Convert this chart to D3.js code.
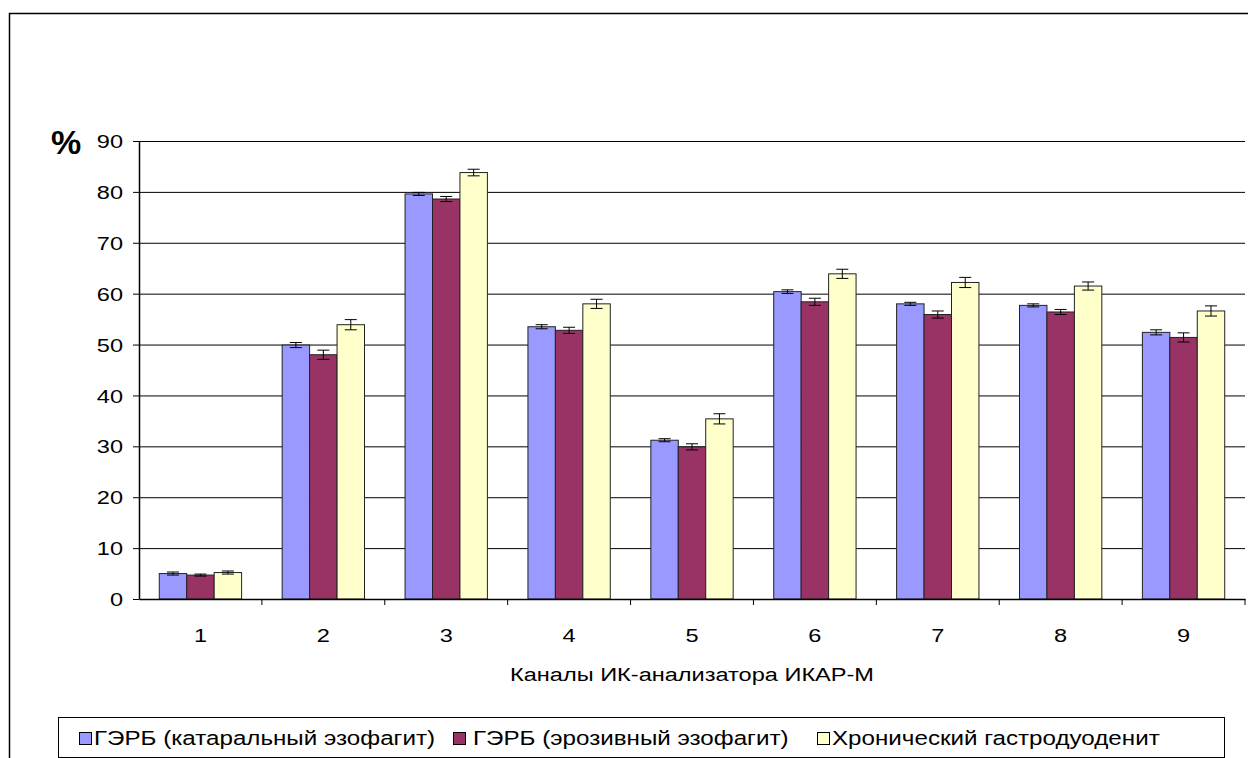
<!DOCTYPE html>
<html>
<head>
<meta charset="utf-8">
<script src="https://cdn.jsdelivr.net/npm/d3@7"></script>
<style>
  body { margin: 0; background: #fff; }
  svg text { font-family: "Liberation Sans", Arial, sans-serif; }
</style>
</head>
<body>
<svg id="chart"></svg>
<script>
const categories = ['1', '2', '3', '4', '5', '6', '7', '8', '9'];
const seriesNames = [
    'ГЭРБ (катаральный эзофагит)',
    'ГЭРБ (эрозивный эзофагит)',
    'Хронический гастродуоденит'
];
const catarrhal = [5.0, 49.9, 79.6, 53.5, 31.2, 60.4, 58.0, 57.7, 52.4];
const erosive = [4.7, 48.0, 78.6, 52.8, 29.9, 58.4, 55.9, 56.4, 51.4];
const chronic = [5.2, 53.9, 83.8, 58.0, 35.4, 63.9, 62.2, 61.5, 56.6];
const catarrhalErr = [0.3, 0.5, 0.3, 0.4, 0.3, 0.35, 0.3, 0.3, 0.5];
const erosiveErr = [0.2, 0.9, 0.5, 0.6, 0.6, 0.7, 0.7, 0.5, 0.9];
const chronicErr = [0.3, 1.0, 0.65, 0.9, 1.0, 0.9, 1.0, 0.8, 1.0];
const yTicks = [0, 10, 20, 30, 40, 50, 60, 70, 80, 90];
const colors = ['#9999FF', '#993366', '#FFFFCC'];

const WIDTH = 1248;
const HEIGHT = 758;
const PLOT = { left: 139, right: 1245, top: 141, bottom: 599 };
const FONT = 19;
const STRETCH = 1.24; // the original text is drawn wider than plain Arial

const values = [catarrhal, erosive, chronic];
const errors = [catarrhalErr, erosiveErr, chronicErr];

const svg = d3.select('#chart')
    .attr('width', WIDTH)
    .attr('height', HEIGHT);

// outer frame
svg.append('path')
    .attr('d', 'M9.5,' + HEIGHT + ' L9.5,13.5 L' + WIDTH + ',13.5')
    .attr('fill', 'none')
    .attr('stroke', '#000')
    .attr('stroke-width', 1.5);

const xScale = d3.scaleBand()
    .domain(categories)
    .range([PLOT.left, PLOT.right])
    .paddingInner(0.33)
    .paddingOuter(0.165);
const xInner = d3.scaleBand()
    .domain([0, 1, 2])
    .range([0, xScale.bandwidth()]);
const xCat = d3.scaleBand()
    .domain(categories)
    .range([PLOT.left, PLOT.right]);
const yScale = d3.scaleLinear()
    .domain([0, 90])
    .range([PLOT.bottom, PLOT.top]);

// stretched text helper
function wideText(parent, x, y, str, anchor, size) {
    return parent.append('text')
        .attr('transform', 'translate(' + x + ',' + y + ') scale(' + STRETCH + ',1)')
        .attr('text-anchor', anchor || 'start')
        .attr('font-size', size || FONT)
        .attr('fill', '#000')
        .text(str);
}

// grid
svg.append('g')
    .attr('transform', 'translate(' + PLOT.left + ',0)')
    .call(d3.axisLeft(yScale).tickValues(yTicks.slice(1)).tickSize(-(PLOT.right - PLOT.left)).tickFormat(''))
    .call(g => g.select('.domain').remove())
    .call(g => g.selectAll('line').attr('stroke', '#000').attr('stroke-width', 1));

// bars
values.forEach((vals, s) => {
    const g = svg.append('g');
    g.selectAll('rect')
        .data(categories)
        .join('rect')
        .attr('x', c => xScale(c) + xInner(s))
        .attr('y', (c, i) => yScale(vals[i]))
        .attr('width', xInner.bandwidth())
        .attr('height', (c, i) => yScale(0) - yScale(vals[i]))
        .attr('fill', colors[s])
        .attr('stroke', '#222')
        .attr('stroke-width', 1);
});

// error bars
values.forEach((vals, s) => {
    const g = svg.append('g')
        .attr('stroke', '#000')
        .attr('stroke-width', 1);
    categories.forEach((c, i) => {
        const cx = xScale(c) + xInner(s) + xInner.bandwidth() / 2;
        const y1 = yScale(vals[i] - errors[s][i]);
        const y2 = yScale(vals[i] + errors[s][i]);
        g.append('line').attr('x1', cx).attr('x2', cx).attr('y1', y1).attr('y2', y2);
        g.append('line').attr('x1', cx - 6).attr('x2', cx + 6).attr('y1', y1).attr('y2', y1);
        g.append('line').attr('x1', cx - 6).attr('x2', cx + 6).attr('y1', y2).attr('y2', y2);
    });
});

// y axis
const yAxis = svg.append('g')
    .attr('transform', 'translate(' + PLOT.left + ',0)')
    .call(d3.axisLeft(yScale).tickValues(yTicks).tickSize(6).tickSizeOuter(0));
yAxis.select('.domain').attr('stroke', '#000').attr('stroke-width', 1.5);
yAxis.selectAll('line').attr('stroke', '#000');
yAxis.selectAll('text')
    .attr('x', 0)
    .attr('dy', '0.35em')
    .attr('transform', 'translate(-16,0) scale(' + STRETCH + ',1)')
    .attr('font-size', FONT)
    .attr('font-family', '"Liberation Sans", Arial, sans-serif')
    .attr('fill', '#000');

// x axis
const xAxis = svg.append('g')
    .attr('transform', 'translate(0,' + PLOT.bottom + ')')
    .call(d3.axisBottom(xCat).tickSize(0).tickSizeOuter(0));
xAxis.select('.domain').attr('stroke', '#000').attr('stroke-width', 1.5);
xAxis.selectAll('text')
    .attr('y', 43)
    .attr('dy', 0)
    .attr('transform', 'scale(' + STRETCH + ',1)')
    .attr('font-size', FONT)
    .attr('font-family', '"Liberation Sans", Arial, sans-serif')
    .attr('fill', '#000');
// category separators
svg.append('g')
    .selectAll('line')
    .data(categories)
    .join('line')
    .attr('x1', (c, i) => xCat(c) + xCat.bandwidth())
    .attr('x2', (c, i) => xCat(c) + xCat.bandwidth())
    .attr('y1', PLOT.bottom)
    .attr('y2', PLOT.bottom + 6)
    .attr('stroke', '#000');

// axis titles
svg.append('text')
    .attr('x', 66)
    .attr('y', 154)
    .attr('text-anchor', 'middle')
    .attr('font-size', 34)
    .attr('font-weight', 'bold')
    .text('%');
wideText(svg, (PLOT.left + PLOT.right) / 2, 681, 'Каналы ИК-анализатора ИКАР-М', 'middle');

// legend
const legend = svg.append('g');
legend.append('rect')
    .attr('x', 58.5)
    .attr('y', 717.5)
    .attr('width', 1166)
    .attr('height', 40)
    .attr('fill', '#fff')
    .attr('stroke', '#000')
    .attr('stroke-width', 1);
const legendX = [79, 453, 817];
const legendGap = [15, 20, 15];
seriesNames.forEach((name, s) => {
    legend.append('rect')
        .attr('x', legendX[s] + 0.5)
        .attr('y', 732.5)
        .attr('width', 12)
        .attr('height', 12)
        .attr('fill', colors[s])
        .attr('stroke', '#000');
    wideText(legend, legendX[s] + legendGap[s], 745, name, 'start', 19.5);
});
</script>
</body>
</html>
